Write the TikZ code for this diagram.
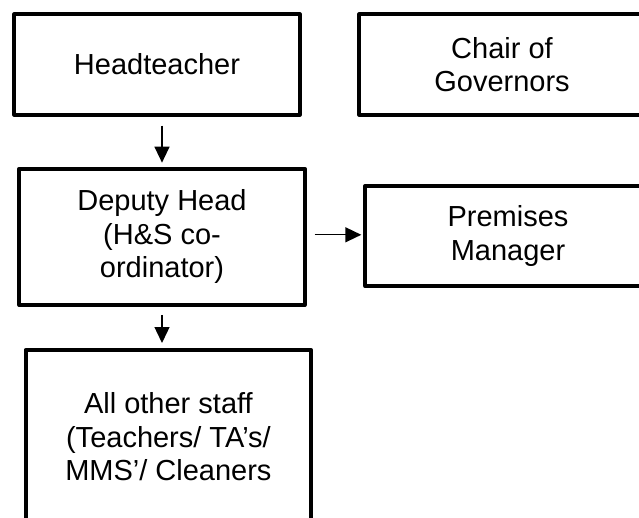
\documentclass[tikz,border=0pt]{standalone}
\usepackage{fontspec}
\setmainfont{Liberation Sans}
\usetikzlibrary{arrows.meta}
\begin{document}
\begin{tikzpicture}[
	x=1pt, y=-1pt,
	role/.style={draw, line width=4pt, line join=round, align=center, inner sep=0pt,
		font=\fontsize{29pt}{33.5pt}\selectfont, minimum width=285.4pt},
	link/.style={-{Triangle[length=16pt,width=15pt]}, line width=1.4pt}]
	\useasboundingbox (0,0) rectangle (639,518);
	\clip (0,0) rectangle (639,518);
	\node[role, minimum height=100.4pt] (head) at (157,64.5) {Headteacher};
	\node[role, minimum height=100.4pt] (chair) at (502,64.5) {Chair of\\Governors};
	\node[role, minimum height=136.3pt] (deputy) at (162,236.8) {Deputy Head\\(H\&S co-\\ordinator)};
	\node[role, minimum height=100pt] (prem) at (508,236) {Premises\\Manager};
	\node[role, minimum height=174pt] (staff) at (168.4,437) {All other staff\\(Teachers/ TA’s/\\MMS’/ Cleaners};
	\draw[link, shorten <=9pt, shorten >=4pt] (head.south -| deputy) -- (deputy.north);
	\draw[link, shorten <=8pt, shorten >=2pt] ([yshift=2pt]deputy.east) -- ([yshift=2pt]deputy.east -| prem.west);
	\draw[link, shorten <=8pt, shorten >=5pt] (deputy.south) -- (deputy.south |- staff.north);
\end{tikzpicture}
\end{document}
